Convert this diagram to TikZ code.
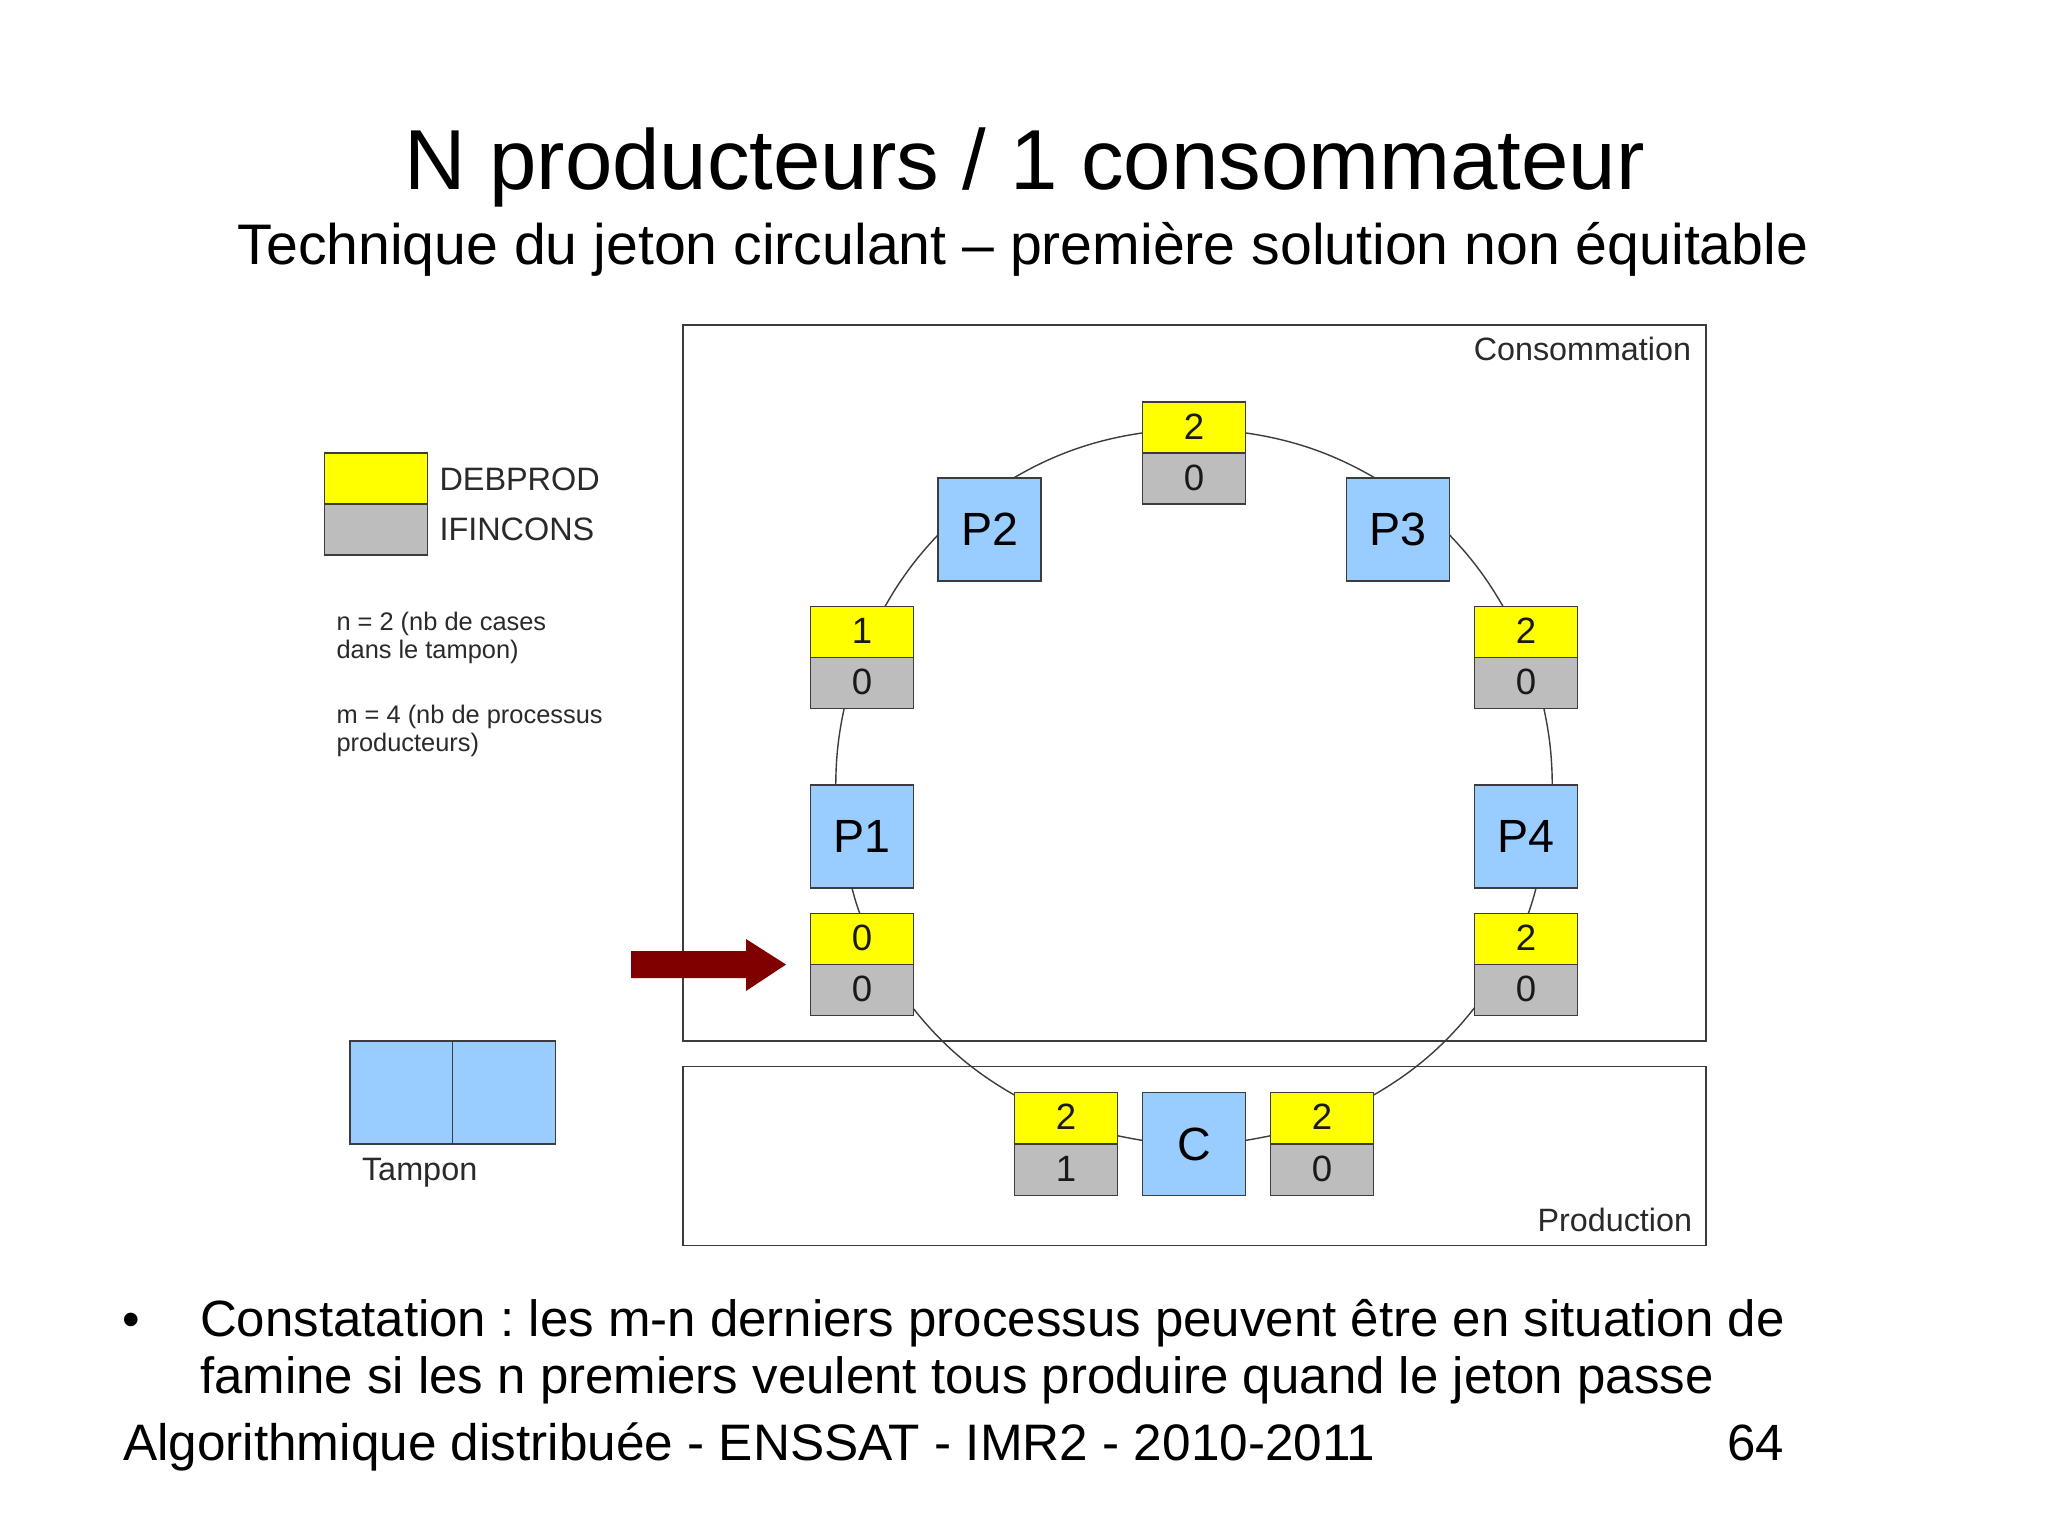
\documentclass[tikz,border=0pt]{standalone}
\usepackage{fontspec}
\setmainfont{Liberation Sans}
\frenchspacing
\newcommand{\fs}[1]{\fontsize{#1}{#1}\selectfont}
\tikzset{
  cell/.style={draw=linegray,line width=0.9pt,minimum width=51.5pt,inner sep=0pt,outer sep=0pt,text=black!90,font=\fs{18.3}},
  yel/.style={cell,fill=tokyellow,minimum height=25.5pt,text depth=1pt},
  gry/.style={cell,fill=tokgray,minimum height=25.5pt,text depth=1pt},
  blu/.style={cell,fill=procblue,minimum height=51.5pt,text=black,font=\fs{23.3}},
  frame/.style={draw=linegray,line width=0.8pt,fill=white},
  conn/.style={draw=linegray,line width=0.7pt,looseness=0.9},
  lab/.style={inner sep=0pt,outer sep=0pt,text=labelgray},
  slide/.style={inner sep=0pt,outer sep=0pt,text=black}
}
\definecolor{tokyellow}{HTML}{FFFF00}
\definecolor{tokgray}{HTML}{BDBDBD}
\definecolor{procblue}{HTML}{99CCFF}
\definecolor{linegray}{HTML}{3C3C3C}
\definecolor{labelgray}{HTML}{2A2A2A}
\definecolor{arrowred}{HTML}{800000}
\begin{document}
\begin{tikzpicture}[x=0.5pt,y=-0.5pt]
\useasboundingbox (0,0) rectangle (2048,1536);
\fill[white] (0,0) rectangle (2048,1536);
% title
\node[slide,anchor=base,font=\fs{42.6}] (title) at (1024.5,189) {N producteurs / 1 consommateur};
\node[slide,anchor=base,font=\fs{28.6}] (subtitle) at (1023,264) {Technique du jeton circulant -- première solution non équitable};
% frames
\node[frame,minimum width=511.5pt,minimum height=358pt,inner sep=0pt,outer sep=0pt] (cons) at (1194.5,683) {};
\node[frame,minimum width=511.5pt,minimum height=89.5pt,inner sep=0pt,outer sep=0pt] (prod) at (1194.5,1156) {};
\node[lab,anchor=base east,font=\fs{16.15}] (conslab) at (1691,360) {Consommation};
\node[lab,anchor=base east,font=\fs{16.15}] (prodlab) at (1692,1231) {Production};
% legend
\node[yel] (ly) at (376,478.5) {};
\node[gry] (lg) at (376,529.5) {};
\node[lab,anchor=west,font=\fs{16.2}] (ldeb) at (439.5,479) {DEBPROD};
\node[lab,anchor=west,font=\fs{16.2}] (lifin) at (439.5,529) {IFINCONS};
\node[lab,anchor=north west,align=left,font=\fontsize{12.7}{14}\selectfont] (ntext) at (336.5,612.5) {n = 2 (nb de cases\\dans le tampon)};
\node[lab,anchor=north west,align=left,font=\fontsize{12.7}{14}\selectfont] (mtext) at (336.5,705.5) {m = 4 (nb de processus\\producteurs)};
% tampon
\node[blu] (tamp1) at (401.5,1092.5) {};
\node[blu] (tamp2) at (504,1092.5) {};
\node[lab,anchor=base west,font=\fs{16.2}] (tamplab) at (362,1180) {Tampon};
% processes
\node[blu] (P1) at (862,836.5) {P1};
\node[blu] (P2) at (989.5,529.5) {P2};
\node[blu] (P3) at (1398,529.5) {P3};
\node[blu] (P4) at (1526,836.5) {P4};
\node[blu,minimum height=51.5pt] (C) at (1194,1144) {C};
% tokens
\node[yel] (topy) at (1194,427.5) {2};
\node[gry] (topg) at (1194,478.5) {0};
\node[yel] (ay) at (862,632) {1};
\node[gry] (ag) at (862,683) {0};
\node[yel] (by) at (1526,632) {2};
\node[gry] (bg) at (1526,683) {0};
\node[yel] (cy) at (862,939) {0};
\node[gry] (cg) at (862,990) {0};
\node[yel] (dy) at (1526,939) {2};
\node[gry] (dg) at (1526,990) {0};
\node[yel] (ey) at (1066,1118) {2};
\node[gry] (eg) at (1066,1170) {1};
\node[yel] (fy) at (1322,1118) {2};
\node[gry] (fg) at (1322,1170) {0};
% ring
\path[conn] (P1.117) to[bend left=6] (ag.235);
\path[conn] (ay.48) to[bend left=7] (P2.186);
\path[conn] (P2.65.5) to[bend left=11] (topy.186);
\path[conn] (topy.354) to[bend left=11] (P3.114);
\path[conn] (P3.354) to[bend left=7] (by.132);
\path[conn] (bg.305) to[bend left=6] (P4.63);
\path[conn] (P4.281) to[bend left=3] (dy.85);
\path[conn] (dg.199.4) to[bend left=11] (fy.24);
\path[conn] (fy.199) to[bend left=1] (C.4);
\path[conn] (C.176) to[bend left=1] (ey.341);
\path[conn] (ey.156) to[bend left=11] (cg.340.6);
\path[conn] (cy.95) to[bend left=3] (P1.259);
% pointer
\fill[arrowred] (631,951) -- (746,951) -- (746,939) -- (786,964.5) -- (746,991) -- (746,978) -- (631,978) -- cycle;
% body
\node[slide,anchor=base,font=\fs{25}] (bullet) at (131,1336) {•};
\node[slide,anchor=base west,font=\fs{25.5}] (line1) at (200,1336) {Constatation : les m-n derniers processus peuvent être en situation de};
\node[slide,anchor=base west,font=\fs{25.5}] (line2) at (200,1393) {famine si les n premiers veulent tous produire quand le jeton passe};
\node[slide,anchor=base west,font=\fs{25.65}] (foot) at (123,1460) {Algorithmique distribuée - ENSSAT - IMR2 - 2010-2011};
\node[slide,anchor=base west,font=\fs{25.5}] (page) at (1727,1460) {64};
\end{tikzpicture}
\end{document}
